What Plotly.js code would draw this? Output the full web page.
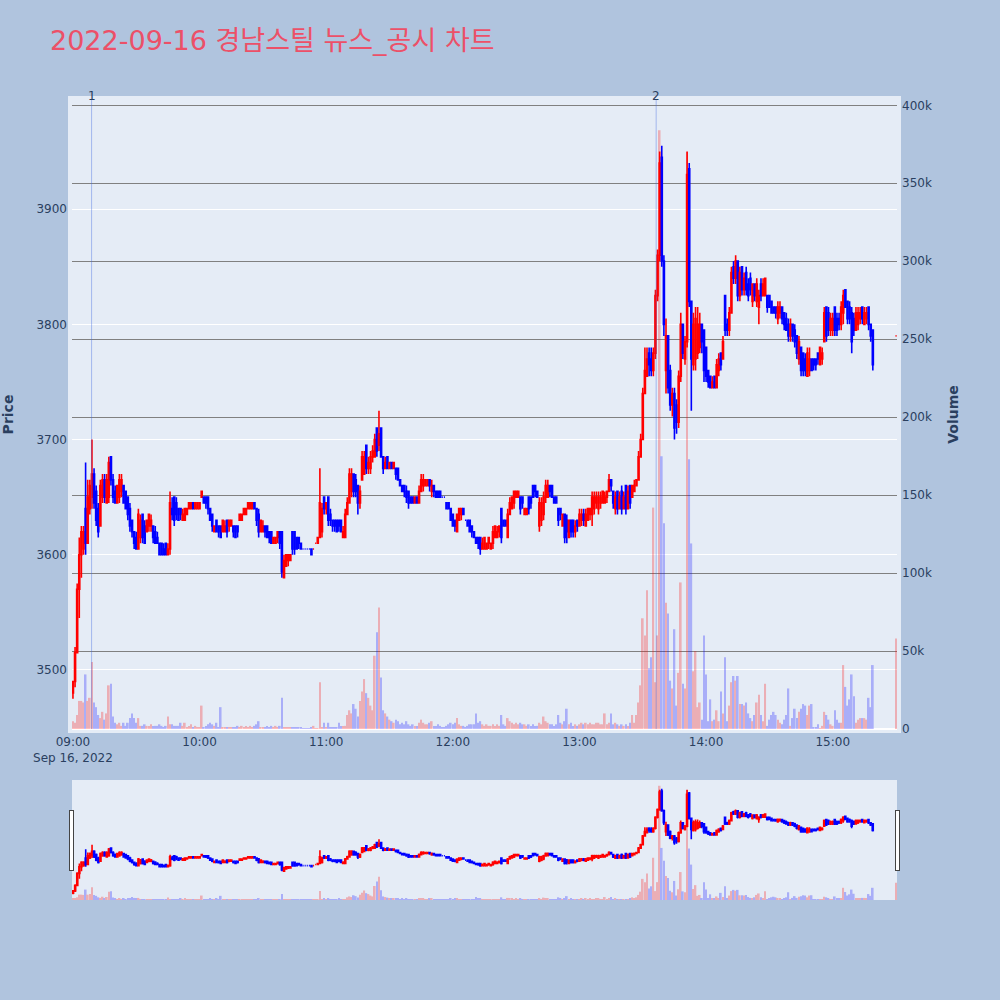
<!DOCTYPE html>
<html>
<head>
<meta charset="utf-8">
<script src="https://cdn.plot.ly/plotly-3.0.1.min.js"></script>
<style>body{margin:0;background:#B0C4DE;}</style>
</head>
<body>
<div id="chart" style="width:1000px;height:1000px;"></div>
<script>
// 1-minute bars, 09:00 .. 15:19 continuous, plus the 15:30 closing auction
const sessionDate = '2022-09-16';
const closingAuction = '2022-09-16 15:30:00';
const newsTimes = ['2022-09-16 09:08:50', '2022-09-16 13:36:20'];
const newsLabels = ['1', '2'];

const openP = [
3480,3490,3515,3570,3600,3605,3640,3610,3640,3650,
3670,3655,3640,3625,3650,3665,3645,3650,3685,3665,
3655,3645,3650,3655,3660,3655,3650,3640,3630,3620,
3615,3605,3615,3635,3625,3620,3625,3625,3625,3620,
3615,3610,3610,3605,3610,3600,3605,3640,3650,3645,
3640,3640,3630,3630,3635,3640,3640,3645,3640,3640,
3640,3650,3650,3650,3650,3640,3635,3620,3630,3625,
3625,3620,3620,3630,3625,3625,3625,3625,3625,3630,
3630,3635,3635,3640,3640,3640,3645,3640,3635,3620,
3620,3625,3625,3620,3620,3610,3610,3615,3620,3620,
3580,3590,3595,3595,3620,3620,3615,3615,3610,3605,
3605,3605,3605,3605,3605,3610,3610,3615,3620,3650,
3640,3650,3635,3630,3630,3630,3630,3630,3615,3615,
3635,3645,3655,3670,3665,3660,3645,3665,3670,3695,
3675,3675,3685,3685,3710,3695,3710,3685,3675,3685,
3675,3680,3675,3675,3675,3665,3660,3660,3655,3655,
3650,3650,3645,3650,3645,3655,3660,3660,3660,3665,
3655,3660,3655,3655,3655,3650,3650,3645,3645,3640,
3635,3630,3620,3630,3635,3640,3630,3630,3630,3625,
3620,3615,3615,3615,3605,3605,3605,3610,3605,3610,
3615,3615,3620,3640,3630,3630,3615,3635,3640,3645,
3650,3650,3650,3650,3635,3635,3650,3650,3660,3660,
3655,3625,3630,3635,3650,3650,3660,3660,3650,3650,
3640,3640,3625,3635,3630,3615,3630,3630,3620,3630,
3625,3630,3635,3625,3630,3635,3635,3640,3645,3640,
3645,3645,3645,3650,3655,3665,3655,3640,3655,3640,
3655,3640,3660,3640,3660,3650,3655,3660,3665,3685,
3700,3740,3755,3775,3770,3760,3775,3825,3860,3945,
3855,3760,3790,3760,3730,3740,3730,3715,3755,3800,
3770,3785,3935,3820,3765,3770,3775,3780,3800,3795,
3780,3760,3755,3745,3755,3745,3760,3775,3770,3825,
3800,3795,3810,3850,3840,3855,3825,3850,3830,3845,
3835,3840,3820,3835,3820,3815,3835,3825,3825,3825,
3825,3820,3815,3815,3805,3810,3815,3810,3805,3800,
3790,3800,3795,3790,3770,3780,3775,3770,3755,3760,
3770,3770,3770,3775,3765,3770,3785,3815,3810,3795,
3795,3815,3805,3805,3800,3810,3830,3820,3815,3810,
3805,3795,3800,3805,3815,3800,3805,3815,3800,3795,
3790];

const highP = [
3490,3520,3575,3615,3625,3625,3680,3665,3665,3700,
3675,3660,3645,3665,3670,3670,3670,3685,3685,3670,
3660,3660,3670,3670,3660,3655,3650,3645,3630,3620,
3620,3640,3635,3635,3630,3630,3635,3635,3625,3625,
3620,3610,3610,3610,3610,3610,3655,3650,3650,3650,
3640,3640,3640,3640,3640,3645,3645,3645,3645,3645,
3645,3655,3650,3650,3650,3640,3635,3625,3630,3625,
3625,3630,3630,3630,3630,3630,3625,3625,3625,3635,
3635,3640,3640,3645,3645,3645,3645,3640,3640,3630,
3630,3625,3625,3620,3620,3615,3615,3620,3620,3620,
3600,3600,3600,3600,3620,3620,3615,3615,3610,3605,
3605,3605,3605,3605,3605,3610,3615,3675,3645,3650,
3645,3650,3640,3630,3630,3630,3630,3630,3625,3640,
3650,3675,3675,3670,3670,3660,3660,3690,3690,3695,
3685,3690,3695,3705,3710,3725,3710,3685,3685,3685,
3680,3680,3680,3675,3675,3665,3660,3660,3660,3655,
3650,3650,3650,3650,3660,3670,3670,3665,3665,3665,
3665,3660,3655,3655,3655,3650,3650,3645,3645,3640,
3635,3630,3635,3640,3640,3640,3630,3630,3630,3625,
3620,3615,3615,3615,3615,3615,3610,3615,3610,3625,
3625,3625,3625,3640,3630,3630,3640,3650,3650,3655,
3655,3655,3650,3650,3640,3640,3650,3650,3660,3660,
3655,3650,3650,3655,3665,3665,3660,3660,3650,3650,
3640,3640,3635,3635,3635,3630,3630,3630,3630,3630,
3640,3640,3640,3640,3640,3640,3655,3655,3655,3655,
3655,3655,3655,3655,3670,3665,3655,3655,3655,3655,
3660,3655,3660,3660,3660,3660,3665,3665,3690,3705,
3745,3780,3780,3780,3780,3780,3830,3865,3950,3955,
3860,3805,3790,3765,3745,3745,3735,3760,3810,3800,
3790,3950,3940,3820,3810,3815,3815,3810,3800,3795,
3780,3760,3755,3755,3755,3770,3775,3775,3790,3825,
3805,3815,3850,3855,3860,3855,3850,3850,3845,3850,
3840,3845,3835,3835,3840,3830,3840,3840,3840,3825,
3825,3820,3815,3815,3820,3820,3815,3810,3810,3805,
3805,3800,3800,3790,3790,3780,3775,3775,3780,3780,
3770,3770,3770,3775,3780,3780,3815,3815,3815,3810,
3810,3815,3810,3810,3820,3830,3830,3820,3820,3815,
3810,3815,3815,3815,3815,3815,3815,3815,3800,3795,
3790];

const lowP = [
3475,3485,3515,3545,3580,3600,3600,3610,3635,3640,
3640,3625,3615,3625,3645,3645,3645,3645,3660,3645,
3645,3645,3645,3650,3645,3640,3630,3620,3615,3605,
3605,3605,3610,3610,3610,3620,3620,3620,3610,3610,
3610,3600,3600,3600,3600,3600,3600,3630,3625,3630,
3630,3630,3630,3630,3635,3640,3640,3640,3640,3640,
3640,3650,3645,3640,3635,3630,3620,3620,3620,3615,
3615,3620,3620,3615,3620,3625,3615,3615,3615,3630,
3630,3635,3635,3640,3640,3640,3640,3625,3615,3620,
3620,3615,3615,3610,3610,3610,3610,3610,3605,3580,
3580,3590,3590,3595,3600,3600,3605,3605,3605,3605,
3605,3605,3605,3600,3605,3610,3610,3615,3615,3635,
3635,3625,3625,3620,3620,3620,3620,3620,3615,3615,
3635,3645,3650,3650,3650,3635,3640,3665,3670,3670,
3670,3670,3680,3685,3685,3690,3685,3670,3675,3675,
3675,3675,3675,3665,3665,3660,3655,3650,3645,3640,
3645,3645,3645,3645,3645,3655,3655,3660,3660,3655,
3650,3650,3650,3650,3650,3650,3650,3640,3640,3630,
3625,3620,3620,3630,3630,3635,3630,3625,3620,3615,
3615,3610,3605,3600,3605,3605,3605,3605,3605,3605,
3615,3615,3615,3610,3625,3625,3615,3635,3640,3640,
3650,3650,3635,3640,3635,3635,3635,3640,3650,3650,
3650,3620,3625,3630,3645,3650,3650,3650,3645,3645,
3625,3630,3625,3610,3610,3615,3615,3615,3615,3620,
3625,3625,3625,3625,3630,3630,3625,3635,3640,3635,
3640,3645,3645,3645,3655,3655,3640,3635,3635,3640,
3635,3640,3635,3640,3640,3650,3655,3660,3665,3685,
3700,3740,3755,3755,3755,3755,3770,3820,3855,3850,
3790,3740,3740,3725,3720,3700,3705,3710,3750,3770,
3765,3780,3815,3725,3760,3760,3770,3775,3775,3750,
3750,3745,3745,3745,3745,3745,3755,3760,3770,3790,
3790,3790,3810,3835,3835,3820,3820,3825,3825,3825,
3820,3825,3815,3820,3815,3800,3820,3825,3825,3810,
3815,3810,3810,3805,3800,3805,3800,3795,3795,3785,
3785,3785,3780,3770,3765,3755,3755,3755,3755,3755,
3760,3760,3760,3765,3765,3765,3785,3785,3790,3790,
3790,3790,3790,3795,3795,3800,3815,3800,3800,3775,
3790,3795,3795,3800,3800,3800,3800,3795,3785,3760,
3790];

const closeP = [
3490,3515,3570,3600,3620,3620,3610,3650,3660,3670,
3645,3630,3620,3660,3665,3650,3665,3680,3665,3650,
3645,3660,3665,3665,3645,3640,3635,3625,3620,3610,
3605,3635,3630,3615,3610,3630,3635,3630,3615,3610,
3610,3600,3600,3600,3600,3605,3645,3635,3630,3635,
3630,3635,3635,3640,3640,3645,3645,3640,3645,3645,
3645,3655,3645,3645,3640,3630,3625,3625,3620,3620,
3615,3630,3625,3620,3630,3630,3620,3615,3620,3635,
3635,3640,3640,3645,3645,3645,3640,3630,3620,3630,
3625,3620,3615,3615,3610,3615,3615,3620,3610,3585,
3595,3600,3600,3600,3605,3605,3605,3610,3605,3605,
3605,3605,3605,3600,3605,3610,3615,3645,3640,3640,
3645,3630,3630,3625,3625,3620,3625,3620,3620,3635,
3645,3670,3670,3655,3655,3645,3655,3685,3685,3675,
3680,3685,3690,3700,3690,3705,3685,3675,3680,3675,
3680,3675,3680,3670,3665,3660,3655,3655,3650,3645,
3645,3645,3650,3645,3655,3665,3665,3665,3665,3660,
3660,3655,3650,3650,3650,3650,3650,3640,3640,3630,
3625,3625,3635,3640,3640,3635,3630,3625,3620,3620,
3615,3610,3610,3605,3610,3615,3610,3615,3610,3620,
3625,3620,3625,3615,3625,3625,3635,3645,3650,3655,
3655,3655,3640,3645,3640,3640,3640,3645,3650,3655,
3650,3645,3645,3650,3660,3660,3655,3650,3645,3645,
3630,3635,3635,3615,3620,3630,3620,3620,3625,3625,
3635,3635,3630,3635,3640,3640,3650,3650,3650,3650,
3650,3655,3650,3655,3665,3660,3645,3650,3640,3650,
3640,3650,3640,3655,3645,3660,3660,3665,3685,3700,
3740,3760,3770,3765,3760,3775,3825,3860,3940,3855,
3800,3790,3745,3730,3740,3710,3715,3755,3800,3775,
3785,3930,3820,3770,3800,3805,3800,3800,3785,3760,
3755,3750,3745,3750,3745,3765,3770,3765,3785,3795,
3795,3810,3845,3840,3855,3825,3845,3830,3840,3830,
3825,3830,3835,3825,3835,3825,3825,3835,3840,3815,
3815,3810,3810,3810,3815,3815,3805,3800,3795,3790,
3800,3790,3785,3775,3785,3760,3760,3760,3775,3770,
3760,3765,3765,3770,3780,3775,3810,3790,3795,3805,
3805,3795,3795,3800,3815,3825,3815,3805,3805,3785,
3795,3810,3810,3810,3805,3810,3810,3800,3790,3765,
3790];

const volume = [
5000,4000,9000,18000,18000,17000,35000,18000,20000,43000,
17000,14000,9000,7000,11000,6000,10000,28000,29000,8000,
4000,3000,4000,2000,4000,2000,4000,7000,10000,7000,
4000,7000,2000,2000,3000,2000,2000,3000,2000,2000,
2000,3000,2000,1000,2000,8000,3000,3000,2000,2000,
2000,4000,2000,4000,1000,2000,3000,1000,2000,1000,
1000,15000,1000,2000,3000,4000,3000,2000,4000,1000,
14000,1000,1000,1000,1000,1000,1000,1000,2000,1000,
2000,1000,2000,1000,2000,1000,2000,3000,5000,1000,
1000,1000,2000,1000,2000,1000,2000,1000,2000,20000,
1000,1000,1000,1000,1000,1000,1000,1000,1000,500,
500,500,500,1000,2000,500,500,30000,1000,4000,
1000,4000,1000,1000,1000,1000,4000,2000,2000,2000,
9000,12000,10000,16000,13000,8000,18000,24000,32000,23000,
20000,15000,12000,47000,62000,78000,33000,12000,10000,8000,
6000,5000,4000,6000,5000,3000,4000,3000,5000,3000,
2000,3000,2000,2000,4000,6000,4000,3000,3000,4000,
5000,2000,2000,3000,2000,1000,1000,2000,3000,4000,
3000,4000,7000,3000,2000,2000,1000,2000,3000,3000,
3000,10000,4000,5000,3000,2000,3000,2000,2000,3000,
2000,3000,2000,9000,3000,2000,7000,5000,4000,3000,
4000,3000,4000,3000,3000,2000,3000,2000,3000,2000,
2000,4000,3000,8000,5000,4000,3000,3000,2000,3000,
9000,4000,3000,5000,13000,3000,4000,2000,3000,2000,
3000,4000,3000,4000,3000,4000,3000,3000,4000,4000,
3000,3000,10000,3000,4000,10000,3000,4000,3000,2000,
3000,2000,3000,2000,4000,9000,4000,9000,17000,28000,
71000,60000,89000,39000,46000,142000,30000,60000,384000,175000,
132000,81000,74000,31000,26000,64000,15000,36000,94000,29000,
26000,370000,173000,119000,37000,50000,14000,17000,6000,60000,
35000,5000,19000,5000,6000,12000,5000,24000,10000,46000,
5000,15000,30000,34000,31000,34000,16000,16000,15000,17000,
10000,7000,5000,9000,17000,22000,9000,5000,29000,2000,
6000,9000,11000,9000,6000,4000,3000,6000,9000,26000,
2000,7000,13000,7000,11000,13000,16000,15000,9000,15000,
16000,1000,1000,3000,500,2000,11000,9000,6000,3000,
2000,12000,6000,4000,4000,41000,27000,15000,19000,35000,
21000,4000,6000,7000,7000,7000,6000,20000,14000,41000,
58000];

// timestamps: one per minute from 09:00, the last bar is the closing auction
function minuteStamp(k) {
  const h = 9 + Math.floor(k / 60), mm = k % 60;
  return sessionDate + ' ' + String(h).padStart(2, '0') + ':' + String(mm).padStart(2, '0') + ':00';
}
const times = [];
for (let k = 0; k < openP.length - 1; k++) times.push(minuteStamp(k));
times.push(closingAuction);

// volume colour follows candle direction (same rule as the candlestick trace)
const volColors = [];
let inc = true, prevC = null;
for (let i = 0; i < openP.length; i++) {
  if (closeP[i] === openP[i]) { if (prevC !== null && closeP[i] !== prevC) inc = closeP[i] > prevC; }
  else inc = closeP[i] > openP[i];
  prevC = closeP[i];
  volColors.push(inc ? 'red' : 'blue');
}

const volTrace = {
  type: 'bar', x: times, y: volume, yaxis: 'y2', name: 'Volume',
  marker: {color: volColors, line: {width: 0}}, opacity: 0.26, hoverinfo: 'x+y'
};
const candleTrace = {
  type: 'candlestick', x: times, open: openP, high: highP, low: lowP, close: closeP,
  name: 'Price', yaxis: 'y',
  increasing: {line: {color: 'red', width: 1.6}, fillcolor: 'red'},
  decreasing: {line: {color: 'blue', width: 1.6}, fillcolor: 'blue'}
};

const shapes = newsTimes.map(t => ({
  type: 'line', xref: 'x', yref: 'paper', x0: t, x1: t, y0: 0, y1: 1,
  line: {color: 'royalblue', width: 1}, opacity: 0.4
}));
const annotations = newsTimes.map((t, i) => ({
  x: t, y: 1, xref: 'x', yref: 'paper', text: newsLabels[i], showarrow: false,
  xanchor: 'center', yanchor: 'bottom', yshift: -5, font: {size: 12, color: '#2a3f5f'}
}));

const layout = {
  width: 1000, height: 1000,
  paper_bgcolor: '#B0C4DE', plot_bgcolor: '#E5ECF6',
  font: {family: 'DejaVu Sans, Verdana, "Noto Sans CJK KR", sans-serif', size: 12, color: '#2a3f5f'},
  title: {text: '2022-09-16 경남스틸 뉴스_공시 차트', x: 0.05, xanchor: 'left', xref: 'container',
          y: 0.959, yanchor: 'middle', yref: 'container',
          font: {size: 27, color: '#EC5068', family: 'DejaVu Sans, "Noto Sans CJK KR", sans-serif'}},
  margin: {l: 72, r: 103, t: 100, b: 100, pad: 4},
  showlegend: false,
  xaxis: {
    type: 'date', range: ['2022-09-16 08:59:33', '2022-09-16 15:30:27'],
    showgrid: false, zeroline: false,
    rangeslider: {visible: true, thickness: 0.15}
  },
  yaxis: {
    title: {text: '<b>Price</b>', font: {size: 14}, standoff: 30},
    range: [3448.7, 3994.8], gridcolor: 'white', gridwidth: 1, zeroline: false
  },
  yaxis2: {
    title: {text: '<b>Volume</b>', font: {size: 14}, standoff: 21},
    overlaying: 'y', side: 'right', range: [0, 403400],
    showgrid: true, gridcolor: 'gray', gridwidth: 1,
    zeroline: true, zerolinecolor: 'white', zerolinewidth: 2
  },
  shapes: shapes,
  annotations: annotations
};

Plotly.newPlot('chart', [volTrace, candleTrace], layout, {displayModeBar: false});
</script>
</body>
</html>
